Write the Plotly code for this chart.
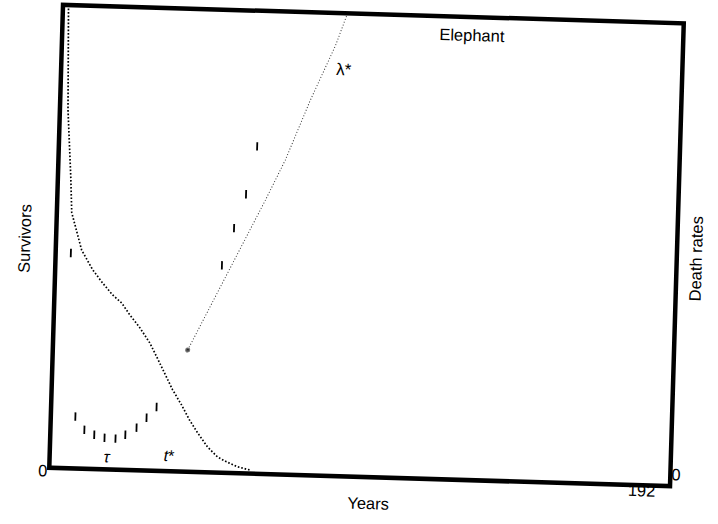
import plotly.graph_objects as go

# Elephant life table: proportion surviving, observed death rates and fitted λ*
surv_age = [1.7, 2.5, 4.0, 4.6, 8.0, 11.6, 14.8, 18.0, 20.9, 23.5, 26.7, 29.9,
            32.2, 34.8, 37.4, 40.3, 42.9, 45.5, 48.7, 51.9, 54.7, 58.2, 61.9]
surv_frac = [1.0, 0.774, 0.627, 0.552, 0.472, 0.430, 0.402, 0.377, 0.360, 0.335,
             0.308, 0.276, 0.246, 0.212, 0.176, 0.144, 0.112, 0.085, 0.055,
             0.034, 0.024, 0.014, 0.008]

rate_age = [4.7, 7.6, 10.5, 13.6, 16.8, 20.2, 23.2, 26.6, 29.6, 32.6,
            51.5, 54.9, 58.3, 61.3]
rate_val = [0.465, 0.112, 0.084, 0.074, 0.068, 0.067, 0.076, 0.092, 0.114,
            0.138, 0.448, 0.529, 0.603, 0.707]

lam_age = [41.7, 53.4, 58.4, 64.3, 70.1, 77.3, 84.6, 88.0]
lam_val = [0.263, 0.434, 0.504, 0.591, 0.679, 0.810, 0.930, 1.0]

max_age = 192
FONT = "Liberation Sans"

fig = go.Figure()

# survivors curve, drawn as a fine dotted line
fig.add_trace(go.Scatter(
    x=surv_age, y=surv_frac, mode="lines",
    line=dict(color="black", width=1.7, dash="1.6px,1.9px"),
    hoverinfo="skip", showlegend=False))

# fitted death-rate line λ*
fig.add_trace(go.Scatter(
    x=lam_age, y=lam_val, mode="lines+markers",
    line=dict(color="#333333", width=1.0, dash="1px,2px"),
    marker=dict(color="black", size=[4] + [0] * (len(lam_age) - 1)),
    hoverinfo="skip", showlegend=False))

# observed death rates as short vertical strokes
fig.add_trace(go.Scatter(
    x=rate_age, y=rate_val, mode="markers",
    marker=dict(symbol="line-ns", size=6,
                line=dict(color="black", width=1.8)),
    hoverinfo="skip", showlegend=False))

txt = dict(family=FONT, size=16.5, color="black")
ann = [
    dict(x=126.9, y=0.962, xref="x", yref="y", text="Elephant", showarrow=False, font=txt),
    dict(x=87.6, y=0.877, xref="x", yref="y", text="λ*", showarrow=False,
         font=dict(family=FONT, size=17, color="black")),
    dict(x=17.85, y=0.027, xref="x", yref="y", text="<i>τ</i>", showarrow=False,
         font=dict(family=FONT, size=16, color="black")),
    dict(x=37.0, y=0.033, xref="x", yref="y", text="<i>t</i>*", showarrow=False,
         font=dict(family=FONT, size=16, color="black")),
    dict(x=-0.0203, y=-0.031, xref="paper", yref="paper", text="0", showarrow=False, font=txt),
    dict(x=0.9814, y=-0.034, xref="paper", yref="paper", text=str(max_age), showarrow=False, font=txt),
    dict(x=1.0193, y=0.0017, xref="paper", yref="paper", text="0", showarrow=False, font=txt),
    dict(x=0.5146, y=-0.080, xref="paper", yref="paper", text="Years", showarrow=False, font=txt),
    dict(x=-0.0682, y=0.494, xref="paper", yref="paper", text="Survivors", textangle=-90,
         showarrow=False, font=txt),
    dict(x=1.0480, y=0.493, xref="paper", yref="paper", text="Death rates", textangle=-90,
         showarrow=False, font=txt),
]

fig.update_layout(
    width=718, height=524,
    margin=dict(l=56, r=41, t=14, b=47),
    paper_bgcolor="white", plot_bgcolor="white",
    xaxis=dict(range=[0, max_age], visible=False, fixedrange=True),
    yaxis=dict(range=[0, 1], visible=False, fixedrange=True),
    shapes=[dict(type="rect", xref="paper", yref="paper", x0=0, x1=1, y0=0, y1=1,
                 line=dict(color="black", width=4.5), layer="above")],
    annotations=ann,
)

# the printed frame sits slightly turned on the page
turn_js = ("document.body.style.margin='0';"
           "var d=document.getElementById('{plot_id}');"
           "d.style.transformOrigin='366px 246px';"
           "d.style.transform='rotate(1.7deg)';")

fig.write_html("out.html", post_script=turn_js)
